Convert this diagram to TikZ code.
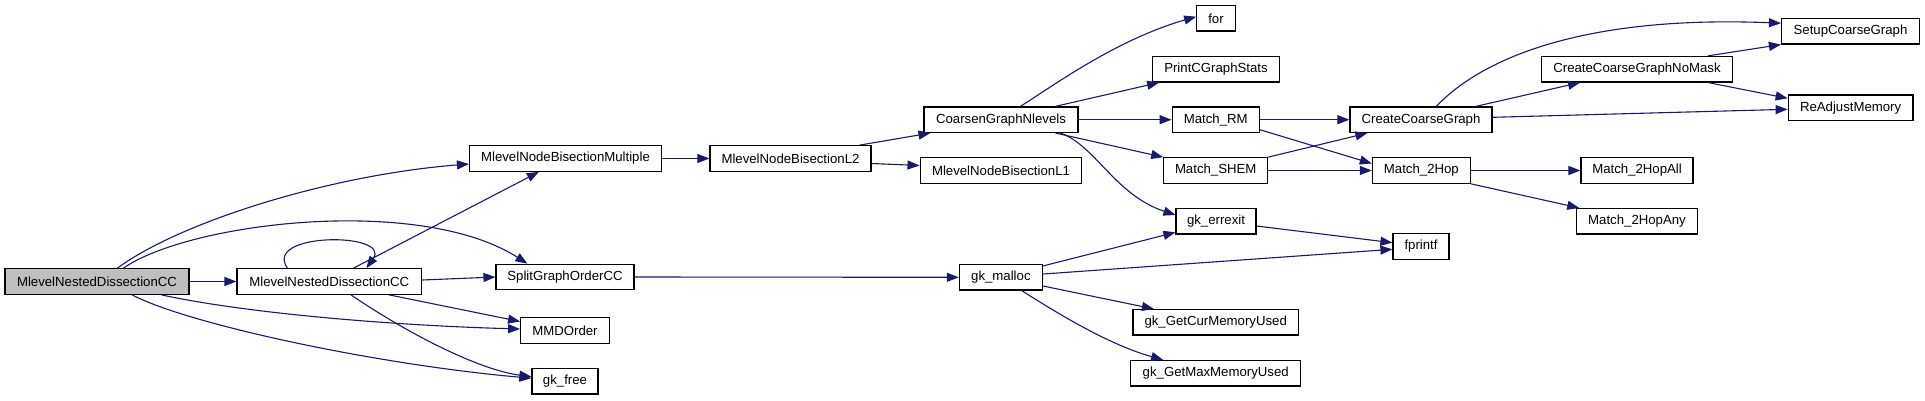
\documentclass[tikz,border=0pt]{standalone}
\usepackage{fontspec}
\setmainfont{Liberation Sans}
\usetikzlibrary{arrows.meta}
\definecolor{edgec}{HTML}{191970}
\definecolor{rootfill}{HTML}{BFBFBF}
\begin{document}
\begin{tikzpicture}[x=1pt,y=-1pt,
  box/.style={draw=black, line width=1.2pt, fill=white, minimum height=25.5pt, inner sep=0pt,
    font=\fontsize{13.2}{15}\selectfont},
  conn/.style={draw=edgec, line width=1.1pt, -{Triangle[length=12pt,width=9pt]}}]
\useasboundingbox[fill=white] (0,0) rectangle (1925,400);
% nodes
\node[box, fill=rootfill, minimum width=184pt] (root) at (97,281.5) {MlevelNestedDissectionCC};
\node[box, minimum width=184.5pt] (nest) at (329.3,281.5) {MlevelNestedDissectionCC};
\node[box, minimum width=192pt] (mult) at (565.5,158.5) {MlevelNodeBisectionMultiple};
\node[box, minimum width=161pt] (ltwo) at (790.5,158.5) {MlevelNodeBisectionL2};
\node[box, minimum width=154pt] (coarsen) at (1001,119.7) {CoarsenGraphNlevels};
\node[box, minimum width=161.7pt] (lone) at (1001,170.5) {MlevelNodeBisectionL1};
\node[box, minimum width=38.5pt] (forn) at (1216,18.3) {for};
\node[box, minimum width=126.6pt] (print) at (1216,69.2) {PrintCGraphStats};
\node[box, minimum width=87pt] (rm) at (1215.7,119.7) {Match\_RM};
\node[box, minimum width=103.8pt] (shem) at (1215.7,170.5) {Match\_SHEM};
\node[box, minimum width=80pt] (errexit) at (1216,221.3) {gk\_errexit};
\node[box, minimum width=165.4pt] (getcur) at (1215.7,322.3) {gk\_GetCurMemoryUsed};
\node[box, minimum width=170pt] (getmax) at (1215.7,373.2) {gk\_GetMaxMemoryUsed};
\node[box, minimum width=83pt] (malloc) at (1000.9,277.3) {gk\_malloc};
\node[box, minimum width=138pt] (split) at (565,277) {SplitGraphOrderCC};
\node[box, minimum width=88.7pt] (mmd) at (565,330.5) {MMDOrder};
\node[box, minimum width=66pt] (gkfree) at (565,381.2) {gk\_free};
\node[box, minimum width=142pt] (ccg) at (1421,119.7) {CreateCoarseGraph};
\node[box, minimum width=98pt] (hop) at (1421.4,170.5) {Match\_2Hop};
\node[box, minimum width=56pt] (fprintf) at (1421,246.5) {fprintf};
\node[box, minimum width=190.7pt] (nomask) at (1637,69.2) {CreateCoarseGraphNoMask};
\node[box, minimum width=112pt] (hopall) at (1637,170.5) {Match\_2HopAll};
\node[box, minimum width=120.3pt] (hopany) at (1637,221.3) {Match\_2HopAny};
\node[box, minimum width=138pt] (setup) at (1850.5,31.2) {SetupCoarseGraph};
\node[box, minimum width=124.8pt] (readj) at (1850.6,107.7) {ReAdjustMemory};
% edges
\draw[conn] ([xshift=113pt]root.north west) .. controls (180,222) and (330,175) .. ([yshift=-5.5pt]mult.west);
\draw[conn] ([xshift=119pt]root.north west) .. controls (190,222) and (420,195) .. ([xshift=32pt]split.north west);
\draw[conn] (root.east) -- (nest.west);
\draw[conn] ([xshift=157pt]root.south west) .. controls (240,312) and (380,325) .. ([yshift=1.5pt]mmd.west);
\draw[conn] ([xshift=127.6pt]root.south west) .. controls (190,325) and (380,365) .. ([yshift=3pt]gkfree.west);
\draw[conn] ([xshift=51pt]nest.north west) .. controls (262,232) and (392,232) .. ([xshift=130pt]nest.north west);
\draw[conn] ([xshift=117pt]nest.north west) -- ([xshift=70pt]mult.south west);
\draw[conn] ([yshift=1.5pt]nest.east) -- (split.west);
\draw[conn] ([xshift=152.6pt]nest.south west) -- ([yshift=9pt]mmd.west);
\draw[conn] ([xshift=114.5pt]nest.south west) .. controls (410,335) and (480,370) .. ([yshift=4.5pt]gkfree.west);
\draw[conn] (mult.east) -- (ltwo.west);
\draw[conn] ([xshift=150pt]ltwo.north west) -- ([xshift=7pt]coarsen.south west);
\draw[conn] ([yshift=-5pt]ltwo.east) -- ([yshift=5pt]lone.west);
\draw[conn] (split.east) -- (malloc.west);
\draw[conn] ([xshift=97pt]coarsen.north west) .. controls (1050,88) and (1115,40) .. ([yshift=1.6pt]forn.west);
\draw[conn] ([xshift=132pt]coarsen.north west) -- ([xshift=7pt]print.south west);
\draw[conn] (coarsen.east) -- (rm.west);
\draw[conn] ([xshift=132pt]coarsen.south west) -- (shem.north west);
\draw[conn] ([xshift=137pt]coarsen.south west) .. controls (1095,145) and (1115,195) .. ([yshift=6.3pt]errexit.west);
\draw[conn] (rm.east) -- (ccg.west);
\draw[conn] ([yshift=-10pt]rm.east) -- ([yshift=7pt]hop.west);
\draw[conn] (shem.north east) -- ([xshift=18pt]ccg.south west);
\draw[conn] (shem.east) -- (hop.west);
\draw[conn] ([xshift=87pt]ccg.north west) .. controls (1480,60) and (1580,15) .. ([yshift=8pt]setup.west);
\draw[conn] ([xshift=126.5pt]ccg.north west) -- ([xshift=39pt]nomask.south west);
\draw[conn] ([yshift=2.4pt]ccg.east) -- ([yshift=-1.6pt]readj.west);
\draw[conn] ([xshift=167pt]nomask.north west) -- (setup.south west);
\draw[conn] ([xshift=167pt]nomask.south west) -- ([yshift=9.4pt]readj.west);
\draw[conn] (hop.east) -- (hopall.west);
\draw[conn] (hop.south east) -- ([xshift=3pt]hopany.north west);
\draw[conn] ([yshift=-2pt]malloc.north east) -- ([yshift=2.3pt]errexit.south west);
\draw[conn] ([yshift=3.3pt]malloc.east) -- ([yshift=-2.8pt]fprintf.west);
\draw[conn] ([yshift=-8.7pt]malloc.east) -- ([xshift=21.5pt]getcur.north west);
\draw[conn] ([xshift=63pt]malloc.south west) .. controls (1060,315) and (1110,345) .. ([xshift=33pt]getmax.north west);
\draw[conn] ([yshift=-4.7pt]errexit.east) -- ([yshift=3.8pt]fprintf.west);
\end{tikzpicture}
\end{document}
